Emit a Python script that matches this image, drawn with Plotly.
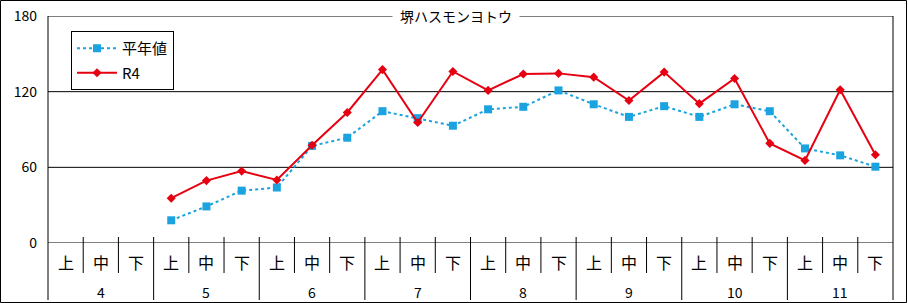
import plotly.graph_objects as go

# ---- data ----
months = ['4', '5', '6', '7', '8', '9', '10', '11']
periods = ['上', '中', '下']
normal = [None, None, None, 18, 29, 41.5, 44, 77, 83.5, 104.5, 99, 93, 106, 108,
          121, 110, 100, 108.5, 100, 110, 104.5, 75, 69.5, 60.5]
r4 = [None, None, None, 35.5, 49.5, 57, 50, 77.5, 103.5, 137.5, 95.5, 136, 121, 134,
      134.5, 131.5, 113, 135.5, 110.5, 130.5, 79, 65.5, 121.5, 70]
y_ticks = [0, 60, 120, 180]
series_names = ['平年値', 'R4']
title_text = '堺ハスモンヨトウ'

categories = [(m, p) for m in months for p in periods]
n = len(categories)
xs = list(range(n))

W, H = 908, 303
L, R, T, B = 48, 15, 16, 60
pw = W - L - R
ph = H - T - B


def px(xp):
    return (xp - L) / pw


def py(yp):
    return (H - B - yp) / ph


FONT = 'Noto Sans CJK JP'
BLUE = '#1AA3DF'
RED = '#E60012'

fig = go.Figure()
fig.add_trace(go.Scatter(
    x=xs, y=normal, name=series_names[0], mode='lines+markers',
    line=dict(color=BLUE, width=2, dash='dot'),
    marker=dict(symbol='square', size=8, color=BLUE),
    legendgroup='a'))
fig.add_trace(go.Scatter(
    x=xs, y=r4, name=series_names[1], mode='lines+markers',
    line=dict(color=RED, width=2),
    marker=dict(symbol='diamond', size=7, color=RED),
    legendgroup='b'))

shapes = []
line_style = dict(color='black', width=1)
# horizontal grid / axis lines
for v in y_ticks:
    shapes.append(dict(type='line', xref='paper', yref='y', x0=0, x1=1, y0=v, y1=v,
                       line=line_style, layer='below'))
# left / right frame
for xv in (0, 1):
    shapes.append(dict(type='line', xref='paper', yref='paper', x0=xv, x1=xv,
                       y0=py(300), y1=1, line=line_style))
# category separators
for i in range(1, n):
    bottom = py(300) if i % len(periods) == 0 else py(273)
    shapes.append(dict(type='line', xref='paper', yref='paper', x0=i / n, x1=i / n,
                       y0=py(237), y1=bottom, line=line_style))
# outer frame
shapes.append(dict(type='rect', xref='paper', yref='paper', x0=px(0.5), x1=px(906.5),
                   y0=py(302.5), y1=py(0.5), line=line_style))

annotations = []
for i, (m, p) in enumerate(categories):
    annotations.append(dict(x=i, xref='x', y=py(262), yref='paper', text=p,
                            showarrow=False, xanchor='center', yanchor='middle',
                            font=dict(family=FONT, size=16, color='black')))
for j, m in enumerate(months):
    annotations.append(dict(x=j * len(periods) + 1, xref='x', y=py(292), yref='paper',
                            text=m, showarrow=False, xanchor='center', yanchor='middle',
                            font=dict(family=FONT, size=14, color='black')))
annotations.append(dict(x=px(456), xref='paper', y=py(16), yref='paper', text=title_text,
                        showarrow=False, xanchor='center', yanchor='middle',
                        bgcolor='white', width=120, borderpad=3,
                        font=dict(family=FONT, size=14, color='black')))

fig.update_layout(
    width=W, height=H,
    margin=dict(l=L, r=R, t=T, b=B, pad=0, autoexpand=False),
    paper_bgcolor='white', plot_bgcolor='white',
    font=dict(family=FONT, size=14, color='black'),
    xaxis=dict(range=[-0.5, n - 0.5], showticklabels=False, showgrid=False,
               zeroline=False, showline=False, ticks='', automargin=False),
    yaxis=dict(range=[0, 180], tickvals=y_ticks, showgrid=False, zeroline=False,
               showline=False, ticks='', ticklabelstandoff=10, automargin=False,
               tickfont=dict(family=FONT, size=14, color='black')),
    legend=dict(x=px(71), y=py(31), xanchor='left', yanchor='top',
                bordercolor='black', borderwidth=1, bgcolor='white',
                font=dict(family=FONT, size=15, color='black'),
                tracegroupgap=2, itemwidth=40,
                entrywidth=65, entrywidthmode='pixels'),
    shapes=shapes,
    annotations=annotations,
    showlegend=True,
)

fig.write_html('out.html')
